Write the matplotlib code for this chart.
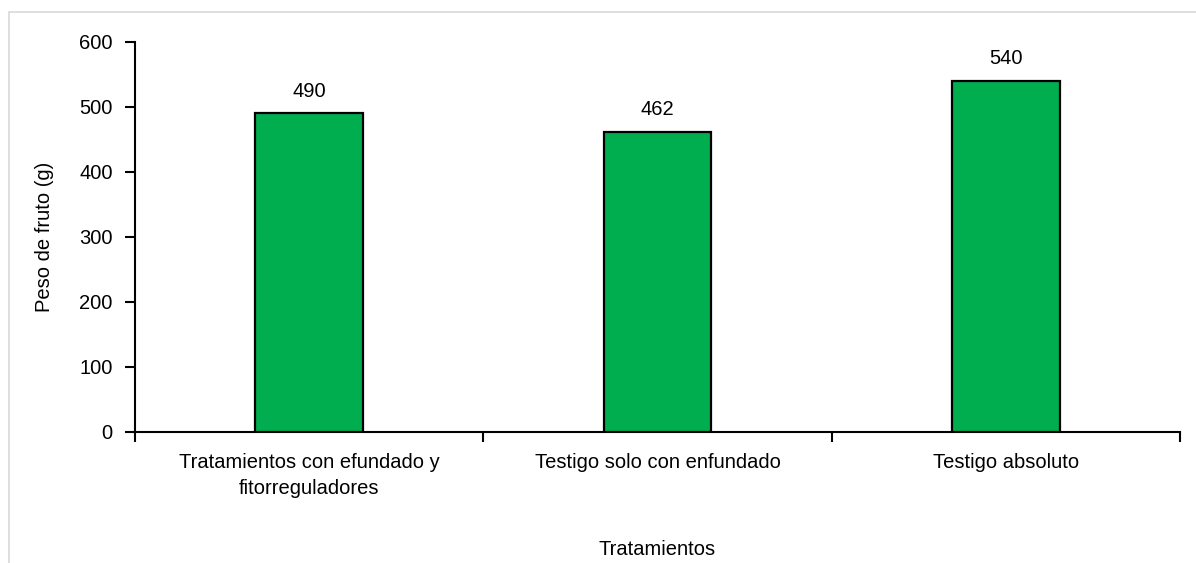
import matplotlib.pyplot as plt
from matplotlib.patches import Rectangle

tratamientos = ["Tratamientos con efundado y\nfitorreguladores",
                "Testigo solo con enfundado",
                "Testigo absoluto"]
peso = [490, 462, 540]

plt.rcParams["font.family"] = ["Liberation Sans", "DejaVu Sans"]
fs = 14.5

fig = plt.figure(figsize=(11.96, 5.63), dpi=100)
ax = fig.add_axes([0.1129, 0.2327, 0.8737, 0.6927])

x = range(len(tratamientos))
bars = ax.bar(x, peso, width=0.31, color="#00AD4F", edgecolor="black", linewidth=1.6, zorder=3)
for b, v in zip(bars, peso):
    ax.annotate(f"{v}", (b.get_x() + b.get_width() / 2, v), xytext=(0, 9),
                textcoords="offset points", ha="center", va="bottom", fontsize=fs)

ax.set_xlim(-0.5, len(tratamientos) - 0.5)
ax.set_ylim(0, 600)
ax.set_yticks(range(0, 601, 100))
ax.set_xticks(list(x))
ax.set_xticklabels(tratamientos, fontsize=fs, linespacing=1.5)
ax.set_xticks([i - 0.5 for i in range(len(tratamientos) + 1)], minor=True)
ax.tick_params(axis="x", which="major", length=0, pad=15)
ax.tick_params(axis="x", which="minor", length=7, width=1.5, direction="out")
ax.tick_params(axis="y", length=7, width=1.5, labelsize=fs, pad=9)

for side in ["top", "right"]:
    ax.spines[side].set_visible(False)
for side in ["left", "bottom"]:
    ax.spines[side].set_linewidth(1.5)

ax.set_ylabel("Peso de fruto (g)", fontsize=fs, labelpad=18)
ax.set_xlabel("Tratamientos", fontsize=fs, labelpad=30)

# light grey chart-area frame
fig.patches.append(Rectangle((9 / 1196, -0.1), 1.2, 1 - 12 / 563 + 0.1,
                             transform=fig.transFigure, fill=False,
                             edgecolor="#d9d9d9", linewidth=1.2))

fig.savefig("out.png", dpi=100)
